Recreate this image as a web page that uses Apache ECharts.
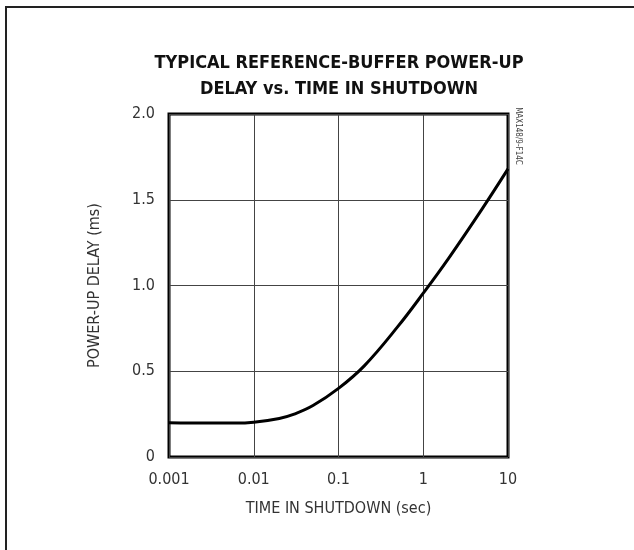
<!DOCTYPE html>
<html>
<head>
<meta charset="utf-8">
<script src="https://cdn.jsdelivr.net/npm/echarts@6/dist/echarts.min.js"></script>
<style>
  html, body { margin: 0; padding: 0; background: #fff; }
  #chart { width: 634px; height: 550px; }
</style>
</head>
<body>
<div id="chart"></div>
<script>
// values
const timeSec = [0.001, 0.003, 0.006, 0.01, 0.02, 0.03, 0.05, 0.1, 0.2, 0.5, 1, 2, 5, 10];
const delayMs = [0.2, 0.198, 0.198, 0.203, 0.225, 0.25, 0.30, 0.40, 0.53, 0.76, 0.955, 1.16, 1.45, 1.68];
const xTicks = [0.001, 0.01, 0.1, 1, 10];
const yTicks = ['0', '0.5', '1.0', '1.5', '2.0'];

const narrow = '"Liberation Sans Narrow", "DejaVu Sans Condensed", sans-serif';

const chart = echarts.init(document.getElementById('chart'));

const option = {
    animation: false,
    title: {
        text: 'TYPICAL REFERENCE-BUFFER POWER-UP\nDELAY vs. TIME IN SHUTDOWN',
        left: 334,
        top: 45,
        textAlign: 'center',
        textStyle: {
            fontFamily: narrow,
            fontWeight: 'bold',
            fontSize: 18,
            lineHeight: 26,
            color: '#111'
        }
    },
    grid: {
        left: 169,
        top: 114,
        width: 339,
        height: 343,
        show: true,
        borderColor: '#000',
        borderWidth: 3,
        backgroundColor: 'transparent'
    },
    xAxis: {
        type: 'log',
        logBase: 10,
        min: 0.001,
        max: 10,
        name: 'TIME IN SHUTDOWN (sec)',
        nameLocation: 'middle',
        nameGap: 44,
        nameTextStyle: { fontFamily: narrow, fontSize: 16, color: '#333' },
        axisLine: { show: false },
        axisTick: { show: false },
        axisLabel: {
            margin: 15,
            fontFamily: narrow,
            fontSize: 16,
            color: '#333',
            formatter: function (v) {
                const hit = xTicks.find(t => Math.abs(t - v) / t < 1e-6);
                return hit === undefined ? '' : String(hit);
            }
        },
        splitLine: { show: true, lineStyle: { color: '#444', width: 1 } }
    },
    yAxis: {
        type: 'value',
        min: 0,
        max: 2,
        interval: 0.5,
        name: 'POWER-UP DELAY (ms)',
        nameLocation: 'middle',
        nameGap: 66,
        nameTextStyle: { fontFamily: narrow, fontSize: 16, color: '#333' },
        axisLine: { show: false },
        axisTick: { show: false },
        axisLabel: {
            margin: 14,
            fontFamily: narrow,
            fontSize: 16,
            color: '#333',
            formatter: function (v) { return yTicks[Math.round(v / 0.5)]; }
        },
        splitLine: { show: true, lineStyle: { color: '#444', width: 1 } }
    },
    graphic: [
        {
            type: 'polyline',
            shape: { points: [[6, 550], [6, 7], [634, 7]] },
            style: { stroke: '#222', lineWidth: 2, fill: null },
            silent: true
        },
        {
            type: 'text',
            x: 518,
            y: 136,
            rotation: -Math.PI / 2,
            style: {
                text: 'MAX148/9-F14C',
                fontFamily: narrow,
                fontSize: 8,
                fill: '#444',
                align: 'center',
                verticalAlign: 'middle'
            }
        }
    ],
    series: [{
        type: 'line',
        data: timeSec.map((t, i) => [t, delayMs[i]]),
        smooth: 0.4,
        showSymbol: false,
        lineStyle: { color: '#000', width: 3 },
        z: 3
    }]
};

chart.setOption(option);
</script>
</body>
</html>
